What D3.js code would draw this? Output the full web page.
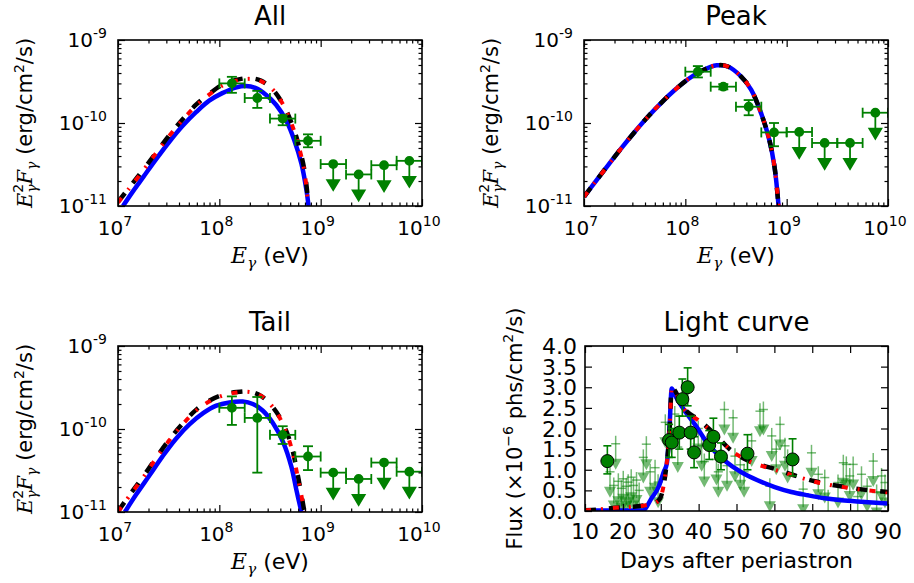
<!DOCTYPE html>
<html>
<head>
<meta charset="utf-8">
<script src="https://cdn.jsdelivr.net/npm/d3@7"></script>
<style>
  body { margin: 0; background: #fff; }
  svg text { font-family: "DejaVu Sans", sans-serif; fill: #000; }
</style>
</head>
<body>
<div class="chart"></div>
<script>
// ---- SED data (energy bins shared by the three spectra) ----
var binLo  = [1e8, 1.78e8, 3.16e8, 5.62e8, 1e9, 1.78e9, 3.16e9, 5.62e9];
var binHi  = [1.78e8, 3.16e8, 5.62e8, 1e9, 1.78e9, 3.16e9, 5.62e9, 1e10];
var binMid = [1.33e8, 2.37e8, 4.22e8, 7.5e8, 1.33e9, 2.37e9, 4.22e9, 7.5e9];

// "All": first 4 bins detections, last 4 upper limits
var allDet   = [3.0e-10, 2.0e-10, 1.13e-10, 6.1e-11];
var allDetLo = [2.31e-10, 1.52e-10, 9.4e-11, 5.1e-11];
var allDetHi = [3.6e-10, 2.44e-10, 1.24e-10, 7.3e-11];
var allUl    = [3.2e-11, 2.4e-11, 3.1e-11, 3.5e-11];

var peakDet   = [4.15e-10, 2.74e-10, 1.57e-10, 7.7e-11];
var peakDetLo = [3.54e-10, 2.54e-10, 1.24e-10, 5.25e-11];
var peakDetHi = [4.85e-10, 2.94e-10, 1.89e-10, 1.0e-10];
var peakUl    = [7.8e-11, 5.75e-11, 5.75e-11, 1.33e-10];

var tailDet   = [1.8e-10, 1.36e-10, 8.5e-11, 4.66e-11];
var tailDetLo = [1.12e-10, 2.98e-11, 6.6e-11, 3.2e-11];
var tailDetHi = [2.47e-10, 2.43e-10, 1.08e-10, 6.2e-11];
var tailUl    = [2.98e-11, 2.5e-11, 3.94e-11, 3.06e-11];

// model curves (E in eV, E^2F in erg/cm2/s)
var allBlueE  = [1.12e7, 1.41e7, 1.78e7, 2.4e7, 3.24e7, 4.37e7, 5.89e7, 7.94e7, 1.07e8, 1.48e8, 1.82e8, 2.29e8, 2.88e8, 3.63e8, 4.57e8, 5.5e8, 6.46e8, 7.24e8, 7.59e8];
var allBlueF  = [1.0e-11, 1.51e-11, 2.24e-11, 3.72e-11, 6.03e-11, 9.33e-11, 1.35e-10, 1.86e-10, 2.29e-10, 2.69e-10, 2.79e-10, 2.63e-10, 2.19e-10, 1.66e-10, 1.07e-10, 6.17e-11, 3.24e-11, 1.55e-11, 1.0e-11];
var allBlackE = [1e7, 1.29e7, 1.78e7, 2.4e7, 3.24e7, 4.37e7, 5.89e7, 7.94e7, 1.07e8, 1.48e8, 2.0e8, 2.57e8, 3.39e8, 4.27e8, 5.13e8, 5.89e8, 6.92e8, 7.59e8];
var allBlackF = [1.12e-11, 1.66e-11, 2.75e-11, 4.47e-11, 7.24e-11, 1.12e-10, 1.66e-10, 2.24e-10, 2.88e-10, 3.31e-10, 3.47e-10, 3.24e-10, 2.51e-10, 1.66e-10, 1.02e-10, 6.17e-11, 2.69e-11, 1.0e-11];
var allRedE   = [1e7, 1.29e7, 1.78e7, 2.4e7, 3.24e7, 4.37e7, 5.89e7, 7.94e7, 1.07e8, 1.48e8, 2.0e8, 2.57e8, 3.39e8, 4.27e8, 5.13e8, 5.89e8, 6.92e8, 7.5e8];
var allRedF   = [1.1e-11, 1.63e-11, 2.7e-11, 4.4e-11, 7.1e-11, 1.1e-10, 1.62e-10, 2.2e-10, 2.82e-10, 3.24e-10, 3.4e-10, 3.2e-10, 2.51e-10, 1.66e-10, 1.0e-10, 6.0e-11, 2.6e-11, 1.0e-11];

var peakE     = [1e7, 1.27e7, 1.74e7, 2.34e7, 3.16e7, 4.27e7, 5.75e7, 7.76e7, 1.07e8, 1.45e8, 2.04e8, 2.63e8, 3.55e8, 4.47e8, 5.62e8, 6.76e8, 7.59e8, 8.32e8];
var peakBlueF = [1.29e-11, 1.9e-11, 3.13e-11, 4.98e-11, 7.8e-11, 1.19e-10, 1.74e-10, 2.46e-10, 3.39e-10, 4.25e-10, 4.95e-10, 4.79e-10, 3.63e-10, 2.51e-10, 1.29e-10, 6.17e-11, 2.95e-11, 1.0e-11];
var peakBlackF = [1.29e-11, 1.9e-11, 3.13e-11, 4.98e-11, 7.8e-11, 1.19e-10, 1.74e-10, 2.46e-10, 3.39e-10, 4.25e-10, 4.95e-10, 4.79e-10, 3.63e-10, 2.51e-10, 1.29e-10, 6.17e-11, 2.95e-11, 1.0e-11];
var peakRedF  = [1.29e-11, 1.9e-11, 3.13e-11, 4.98e-11, 7.8e-11, 1.19e-10, 1.74e-10, 2.46e-10, 3.39e-10, 4.25e-10, 4.95e-10, 4.79e-10, 3.63e-10, 2.51e-10, 1.29e-10, 6.17e-11, 2.95e-11, 1.0e-11];

var tailBlueE  = [1.17e7, 1.51e7, 2.04e7, 2.75e7, 3.72e7, 5.13e7, 6.92e7, 9.33e7, 1.26e8, 1.7e8, 2.14e8, 2.69e8, 3.39e8, 4.27e8, 5.13e8, 5.75e8, 6.46e8];
var tailBlueF  = [1.0e-11, 1.62e-11, 2.75e-11, 4.68e-11, 7.59e-11, 1.15e-10, 1.55e-10, 1.91e-10, 2.09e-10, 2.14e-10, 2.0e-10, 1.66e-10, 1.17e-10, 6.92e-11, 3.55e-11, 1.86e-11, 1.0e-11];
var tailBlackE = [1e7, 1.29e7, 1.78e7, 2.4e7, 3.24e7, 4.37e7, 5.89e7, 7.94e7, 1.07e8, 1.48e8, 2.0e8, 2.57e8, 3.39e8, 4.27e8, 5.13e8, 5.89e8, 6.92e8];
var tailBlackF = [1.02e-11, 1.58e-11, 2.69e-11, 4.57e-11, 7.59e-11, 1.17e-10, 1.7e-10, 2.19e-10, 2.57e-10, 2.79e-10, 2.82e-10, 2.51e-10, 1.82e-10, 1.15e-10, 6.31e-11, 2.95e-11, 1.0e-11];
var tailRedF   = [1.0e-11, 1.55e-11, 2.63e-11, 4.5e-11, 7.4e-11, 1.15e-10, 1.66e-10, 2.14e-10, 2.51e-10, 2.75e-10, 2.79e-10, 2.51e-10, 1.82e-10, 1.12e-10, 6.0e-11, 2.8e-11, 1.0e-11];

// ---- light curve data ----
var lcDetDay  = [15.9, 32.2, 32.9, 34.9, 35.7, 37.1, 37.9, 38.8, 42.8, 43.9, 45.9, 52.9, 64.8];
var lcDetFlux = [1.21, 1.72, 1.66, 1.90, 2.71, 3.00, 1.90, 1.42, 1.60, 1.80, 1.32, 1.39, 1.25];
var lcDetLo   = [0.90, 1.30, 1.30, 1.50, 2.30, 2.55, 1.50, 1.05, 1.25, 1.45, 1.00, 1.00, 0.85];
var lcDetHi   = [1.58, 2.10, 2.00, 2.30, 3.20, 3.47, 2.30, 1.80, 1.95, 2.25, 1.65, 1.85, 1.75];

var lcUlDay  = [16.6, 18.1, 17.6, 18.8, 19.6, 20.1, 20.9, 21.4, 22.2, 22.8, 23.6, 24.3, 25.4, 26.2, 27.2, 28.5, 29.3, 31.2, 33.7, 34.5,
                39.9, 40.8, 41.5, 44.7, 45.2, 46.8, 47.5, 49.1, 49.6, 51.0, 52.0, 54.0, 56.2, 57.1, 58.8, 59.3, 60.5, 61.5, 62.8, 63.5,
                67.6, 69.8, 71.6, 73.3, 74.2, 76.8, 78.2, 79.0, 79.9, 80.8, 82.0, 83.0, 84.5, 86.1, 87.0, 88.3, 89.2];
var lcUlFlux = [0.95, 1.63, 0.62, 0.72, 0.55, 0.78, 0.60, 0.70, 0.82, 0.62, 0.75, 0.50, 1.30, 1.62, 0.95, 1.05, 0.70, 2.15, 2.35, 1.55,
                2.00, 1.58, 1.20, 1.25, 0.95, 2.46, 1.10, 2.26, 1.33, 1.12, 0.95, 1.70, 2.42, 2.46, 0.60, 1.82, 1.50, 2.10, 1.58, 1.30,
                0.53, 1.41, 0.89, 0.81, 0.32, 0.69, 1.17, 1.13, 0.85, 1.13, 0.35, 0.89, 0.60, 1.21, 0.45, 0.85, 0.69];

var lcBlueDay  = [10, 25.3, 27.5, 29.5, 30.8, 31.6, 32.3, 32.9, 33.7, 36.4, 39.0, 42.5, 46.9, 51.3, 55.7, 60.1, 64.5, 68.9, 73.3, 77.7, 83.8, 90];
var lcBlueFlux = [0.01, 0.01, 0.3, 0.6, 0.95, 1.15, 2.0, 2.97, 2.82, 2.42, 2.10, 1.62, 1.22, 0.94, 0.74, 0.58, 0.46, 0.38, 0.31, 0.26, 0.22, 0.18];
var lcBlackDay  = [10, 14, 18, 22, 26, 28.5, 29.8, 30.5, 31.3, 32.3, 32.9, 36.4, 39.9, 44.3, 48.7, 53.1, 60.1, 65.4, 70.7, 79.5, 90];
var lcBlackFlux = [0.02, 0.04, 0.08, 0.10, 0.14, 0.20, 0.30, 0.50, 0.95, 1.90, 2.98, 2.46, 2.22, 1.86, 1.46, 1.22, 1.02, 0.86, 0.72, 0.57, 0.46];
var lcRedFlux   = [0.02, 0.04, 0.08, 0.10, 0.14, 0.20, 0.30, 0.50, 0.95, 1.90, 2.96, 2.44, 2.20, 1.85, 1.46, 1.22, 1.00, 0.85, 0.71, 0.56, 0.45];

// tick values
var eTicks = [1e7, 1e8, 1e9, 1e10];
var eTickExp = ["7", "8", "9", "10"];
var fTicks = [1e-11, 1e-10, 1e-9];
var fTickExp = ["-11", "-10", "-9"];
var dayTicks = [10, 20, 30, 40, 50, 60, 70, 80, 90];
var fluxTicks = [0, 0.5, 1, 1.5, 2, 2.5, 3, 3.5, 4];

var svgWidth = 914, svgHeight = 583;
var svg = d3.select(".chart").append("svg")
  .attr("width", svgWidth)
  .attr("height", svgHeight);

var GREEN = "#008000";

function minorLog(lo, hi) {
  var out = [];
  for (var d = lo; d < hi; d++) for (var m = 2; m < 10; m++) out.push(m * Math.pow(10, d));
  return out;
}

function clean(sel) {
  sel.select(".domain").remove();
  sel.selectAll("line").attr("stroke", "#000").attr("stroke-width", 1.2);
}

function ticks(g, x, y, w, h, xt, yt, len) {
  g.append("g").attr("transform", "translate(0," + h + ")")
    .call(d3.axisBottom(x).tickValues(xt).tickSize(-len).tickFormat("")).call(clean);
  g.append("g").call(d3.axisTop(x).tickValues(xt).tickSize(-len).tickFormat("")).call(clean);
  g.append("g").call(d3.axisLeft(y).tickValues(yt).tickSize(-len).tickFormat("")).call(clean);
  g.append("g").attr("transform", "translate(" + w + ",0)")
    .call(d3.axisRight(y).tickValues(yt).tickSize(-len).tickFormat("")).call(clean);
}

function powLabel(g, x, y, exp, anchor) {
  var t = g.append("text").attr("x", x).attr("y", y).attr("text-anchor", anchor).style("font-size", "20px");
  t.append("tspan").text("10");
  t.append("tspan").attr("dy", -9).style("font-size", "14px").text(exp);
}

function eLabel(g, x, y) {
  var t = g.append("text").attr("x", x).attr("y", y).attr("text-anchor", "middle").style("font-size", "22px");
  t.append("tspan").style("font-family", "DejaVu Serif").style("font-style", "italic").text("E");
  t.append("tspan").attr("dy", 5).style("font-family", "DejaVu Serif").style("font-style", "italic").style("font-size", "15px").text("γ");
  t.append("tspan").attr("dy", -5).text(" (eV)");
}

function fLabel(g, x, y) {
  var t = g.append("text").attr("transform", "translate(" + x + "," + y + ") rotate(-90)")
    .attr("text-anchor", "middle").style("font-size", "21px");
  var serif = function(s) { return s.style("font-family", "DejaVu Serif").style("font-style", "italic"); };
  serif(t.append("tspan")).text("E");
  t.append("tspan").attr("dy", -9).style("font-size", "14px").text("2");
  serif(t.append("tspan")).attr("dx", -9).attr("dy", 14).style("font-size", "14px").text("γ");
  serif(t.append("tspan")).attr("dy", -5).text("F");
  serif(t.append("tspan")).attr("dy", 5).style("font-size", "14px").text("γ");
  t.append("tspan").attr("dy", -5).text("  (erg/cm");
  t.append("tspan").attr("dy", -8).style("font-size", "14px").text("2");
  t.append("tspan").attr("dy", 8).text("/s)");
}

function drawSED(c) {
  var w = 304, h = 166;
  var g = svg.append("g").attr("transform", "translate(" + c.left + "," + c.top + ")");
  var x = d3.scaleLog().domain([1e7, 1e10]).range([0, w]);
  var y = d3.scaleLog().domain([1e-11, 1e-9]).range([h, 0]);

  var id = "clip" + c.title;
  g.append("clipPath").attr("id", id).append("rect").attr("width", w).attr("height", h);
  var line = d3.line().x(function(d) { return x(d[0]); }).y(function(d) { return y(d[1]); }).curve(d3.curveCatmullRom.alpha(0.5));
  var curves = g.append("g").attr("clip-path", "url(#" + id + ")");
  curves.append("path").datum(d3.zip(c.blue[0], c.blue[1])).attr("d", line)
    .attr("fill", "none").attr("stroke", "#0000ff").attr("stroke-width", 4.5);
  curves.append("path").datum(d3.zip(c.black[0], c.black[1])).attr("d", line)
    .attr("fill", "none").attr("stroke", "#000").attr("stroke-width", 4.5).attr("stroke-dasharray", "11,13");
  curves.append("path").datum(d3.zip(c.red[0], c.red[1])).attr("d", line)
    .attr("fill", "none").attr("stroke", "#ff0000").attr("stroke-width", 4).attr("stroke-dasharray", "6,10,2,10");

  var pts = g.append("g").attr("clip-path", "url(#" + id + ")").attr("stroke", GREEN).attr("stroke-width", 1.8);
  c.det.forEach(function(v, i) {
    var px = x(binMid[i]), py = y(v);
    pts.append("line").attr("x1", x(binLo[i])).attr("x2", x(binHi[i])).attr("y1", py).attr("y2", py);
    pts.append("line").attr("x1", x(binLo[i])).attr("x2", x(binLo[i])).attr("y1", py - 5).attr("y2", py + 5);
    pts.append("line").attr("x1", x(binHi[i])).attr("x2", x(binHi[i])).attr("y1", py - 5).attr("y2", py + 5);
    pts.append("line").attr("x1", px).attr("x2", px).attr("y1", y(c.lo[i])).attr("y2", y(c.hi[i]));
    pts.append("line").attr("x1", px - 5).attr("x2", px + 5).attr("y1", y(c.lo[i])).attr("y2", y(c.lo[i]));
    pts.append("line").attr("x1", px - 5).attr("x2", px + 5).attr("y1", y(c.hi[i])).attr("y2", y(c.hi[i]));
    pts.append("circle").attr("cx", px).attr("cy", py).attr("r", 4).attr("fill", GREEN);
  });
  c.ul.forEach(function(v, k) {
    var i = k + 4;
    var px = x(binMid[i]), py = y(v);
    pts.append("line").attr("x1", x(binLo[i])).attr("x2", x(binHi[i])).attr("y1", py).attr("y2", py);
    pts.append("line").attr("x1", x(binLo[i])).attr("x2", x(binLo[i])).attr("y1", py - 5).attr("y2", py + 5);
    pts.append("line").attr("x1", x(binHi[i])).attr("x2", x(binHi[i])).attr("y1", py - 5).attr("y2", py + 5);
    pts.append("line").attr("x1", px).attr("x2", px).attr("y1", py).attr("y2", py + 18);
    pts.append("path").attr("d", "M" + (px - 6) + "," + (py + 16) + "L" + (px + 6) + "," + (py + 16) + "L" + px + "," + (py + 26) + "Z")
      .attr("fill", GREEN);
    pts.append("circle").attr("cx", px).attr("cy", py).attr("r", 4).attr("fill", GREEN);
  });

  ticks(g, x, y, w, h, eTicks, fTicks, 7);
  ticks(g, x, y, w, h, minorLog(7, 10), minorLog(-11, -9), 3.5);
  g.append("rect").attr("width", w).attr("height", h).attr("fill", "none").attr("stroke", "#000").attr("stroke-width", 1.6);

  eTicks.forEach(function(v, i) { powLabel(g, x(v) - 3, h + 29, eTickExp[i], "middle"); });
  fTicks.forEach(function(v, i) { powLabel(g, -11, y(v) + 7, fTickExp[i], "end"); });

  g.append("text").attr("x", w / 2).attr("y", -15).attr("text-anchor", "middle").style("font-size", "26px").text(c.title);
  eLabel(g, w / 2, h + 57);
  fLabel(g, -86, h / 2);
}

drawSED({ title: "All", left: 118, top: 40, det: allDet, lo: allDetLo, hi: allDetHi, ul: allUl,
  blue: [allBlueE, allBlueF], black: [allBlackE, allBlackF], red: [allRedE, allRedF] });
drawSED({ title: "Peak", left: 584, top: 40, det: peakDet, lo: peakDetLo, hi: peakDetHi, ul: peakUl,
  blue: [peakE, peakBlueF], black: [peakE, peakBlackF], red: [peakE, peakRedF] });
drawSED({ title: "Tail", left: 118, top: 346, det: tailDet, lo: tailDetLo, hi: tailDetHi, ul: tailUl,
  blue: [tailBlueE, tailBlueF], black: [tailBlackE, tailBlackF], red: [tailBlackE, tailRedF] });

// ---- light curve ----
(function() {
  var w = 303, h = 165;
  var g = svg.append("g").attr("transform", "translate(585,346)");
  var x = d3.scaleLinear().domain([10, 90]).range([0, w]);
  var y = d3.scaleLinear().domain([0, 4]).range([h, 0]);
  g.append("clipPath").attr("id", "clipLC").append("rect").attr("width", w).attr("height", h);

  var ul = g.append("g").attr("clip-path", "url(#clipLC)").attr("stroke", GREEN).attr("stroke-opacity", 0.55).attr("stroke-width", 1.5);
  lcUlDay.forEach(function(d, i) {
    var px = x(d), py = y(lcUlFlux[i]);
    ul.append("line").attr("x1", x(d - 1.2)).attr("x2", x(d + 1.2)).attr("y1", py).attr("y2", py);
    ul.append("line").attr("x1", px).attr("x2", px).attr("y1", py - 8).attr("y2", py + 18);
    ul.append("path").attr("d", "M" + (px - 6) + "," + (py + 15) + "L" + (px + 6) + "," + (py + 15) + "L" + px + "," + (py + 26) + "Z")
      .attr("fill", GREEN).attr("fill-opacity", 0.55).attr("stroke", "none");
  });

  var line = d3.line().x(function(d) { return x(d[0]); }).y(function(d) { return y(d[1]); }).curve(d3.curveMonotoneX);
  var curves = g.append("g").attr("clip-path", "url(#clipLC)");
  curves.append("path").datum(d3.zip(lcBlueDay, lcBlueFlux)).attr("d", line)
    .attr("fill", "none").attr("stroke", "#0000ff").attr("stroke-width", 4.5);
  curves.append("path").datum(d3.zip(lcBlackDay, lcBlackFlux)).attr("d", line)
    .attr("fill", "none").attr("stroke", "#000").attr("stroke-width", 4.5).attr("stroke-dasharray", "11,13");
  curves.append("path").datum(d3.zip(lcBlackDay, lcRedFlux)).attr("d", line)
    .attr("fill", "none").attr("stroke", "#ff0000").attr("stroke-width", 4).attr("stroke-dasharray", "6,10,2,10");

  var det = g.append("g").attr("stroke", GREEN).attr("stroke-width", 1.6);
  lcDetDay.forEach(function(d, i) {
    var px = x(d);
    det.append("line").attr("x1", px).attr("x2", px).attr("y1", y(lcDetLo[i])).attr("y2", y(lcDetHi[i]));
    det.append("line").attr("x1", px - 4).attr("x2", px + 4).attr("y1", y(lcDetLo[i])).attr("y2", y(lcDetLo[i]));
    det.append("line").attr("x1", px - 4).attr("x2", px + 4).attr("y1", y(lcDetHi[i])).attr("y2", y(lcDetHi[i]));
  });
  g.append("g").selectAll("circle").data(lcDetDay).enter().append("circle")
    .attr("cx", function(d) { return x(d); })
    .attr("cy", function(d, i) { return y(lcDetFlux[i]); })
    .attr("r", 6.5).attr("fill", GREEN).attr("stroke", "#000").attr("stroke-width", 1);

  ticks(g, x, y, w, h, dayTicks, fluxTicks, 7);
  g.append("rect").attr("width", w).attr("height", h).attr("fill", "none").attr("stroke", "#000").attr("stroke-width", 1.6);

  dayTicks.forEach(function(v) {
    g.append("text").attr("x", x(v)).attr("y", h + 28).attr("text-anchor", "middle").style("font-size", "22px").text(v);
  });
  fluxTicks.forEach(function(v) {
    g.append("text").attr("x", -8).attr("y", y(v) + 8).attr("text-anchor", "end").style("font-size", "22px").text(v.toFixed(1));
  });

  g.append("text").attr("x", w / 2).attr("y", -15).attr("text-anchor", "middle").style("font-size", "26px").text("Light curve");
  g.append("text").attr("x", w / 2).attr("y", h + 57).attr("text-anchor", "middle").style("font-size", "22px").text("Days after periastron");

  var t = g.append("text").attr("transform", "translate(-63," + (h / 2) + ") rotate(-90)")
    .attr("text-anchor", "middle").style("font-size", "21px");
  t.append("tspan").text("Flux (×10");
  t.append("tspan").attr("dy", -9).style("font-size", "14px").text("−6");
  t.append("tspan").attr("dy", 9).text(" phs/cm");
  t.append("tspan").attr("dy", -9).style("font-size", "14px").text("2");
  t.append("tspan").attr("dy", 9).text("/s)");
})();
</script>
</body>
</html>
